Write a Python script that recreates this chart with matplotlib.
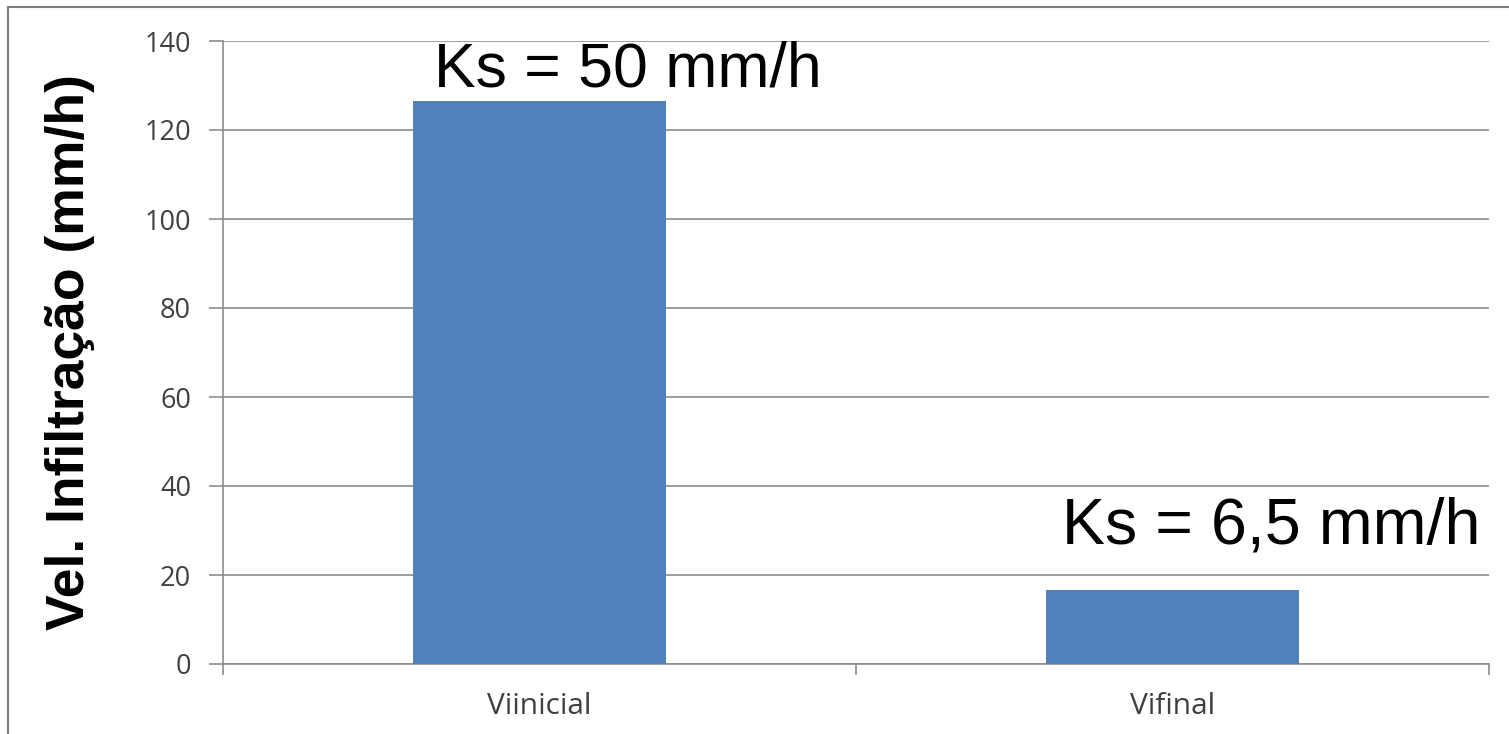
import matplotlib
matplotlib.use("Agg")
import matplotlib.pyplot as plt
from matplotlib.lines import Line2D

categories = ["Viinicial", "Vifinal"]
values = [126.5, 16.6]
annotations = ["Ks = 50 mm/h", "Ks = 6,5 mm/h"]
y_ticks = [0, 20, 40, 60, 80, 100, 120, 140]

W, H = 1509, 734
fig = plt.figure(figsize=(W / 100, H / 100), dpi=100)
ax = fig.add_axes([223 / W, 1 - 664 / H, (1489 - 223) / W, (664 - 41) / H])

bar_color = "#4F81BD"
x = list(range(len(categories)))
ax.bar(x, values, width=0.4, color=bar_color, zorder=3)

ax.set_xlim(-0.5, 1.5)
ax.set_ylim(0, 140)
ax.set_yticks(y_ticks)
ax.set_yticklabels([str(t) for t in y_ticks])
ax.yaxis.grid(True, color="#8c8c8c", linewidth=1.2, zorder=0)
ax.set_axisbelow(True)

for s in ["top", "right"]:
    ax.spines[s].set_visible(False)
for s in ["left", "bottom"]:
    ax.spines[s].set_color("#8c8c8c")
    ax.spines[s].set_linewidth(1.2)

ax.tick_params(axis="y", length=10, width=1.2, color="#8c8c8c", pad=13,
               labelsize=19.5, labelcolor="#404040")
ax.set_xticks([-0.5, 0.5, 1.5], minor=False)
ax.set_xticklabels(["", "", ""])
ax.set_xticks(x, minor=True)
ax.set_xticklabels(categories, minor=True)
ax.tick_params(axis="x", which="major", length=8, width=1.2, color="#8c8c8c", direction="out")
ax.tick_params(axis="x", which="minor", length=0, pad=20, labelsize=21.5, labelcolor="#404040")
for lab in ax.get_yticklabels() + ax.get_xticklabels(minor=True):
    lab.set_family("Open Sans")

ax.set_ylabel("Vel. Infiltração (mm/h)", fontsize=38.5, fontweight="bold",
              family="Liberation Sans")
ax.yaxis.set_label_coords(-(223 - 95) / (1489 - 223), 0.5)

ax.text(0.14, 129.8, annotations[0], fontsize=45, family="Liberation Sans",
        ha="center", va="baseline", zorder=5)
ax.text(1.156, 27.0, annotations[1], fontsize=46.5, family="Liberation Sans",
        ha="center", va="baseline", zorder=5)

# outer frame lines (top and left)
fig.add_artist(Line2D([8 / W, 1.0], [1 - 7 / H, 1 - 7 / H], color="#7f7f7f", linewidth=1.5))
fig.add_artist(Line2D([8 / W, 8 / W], [0, 1 - 7 / H], color="#7f7f7f", linewidth=1.5))

fig.savefig("out.png", dpi=100, facecolor="white")
